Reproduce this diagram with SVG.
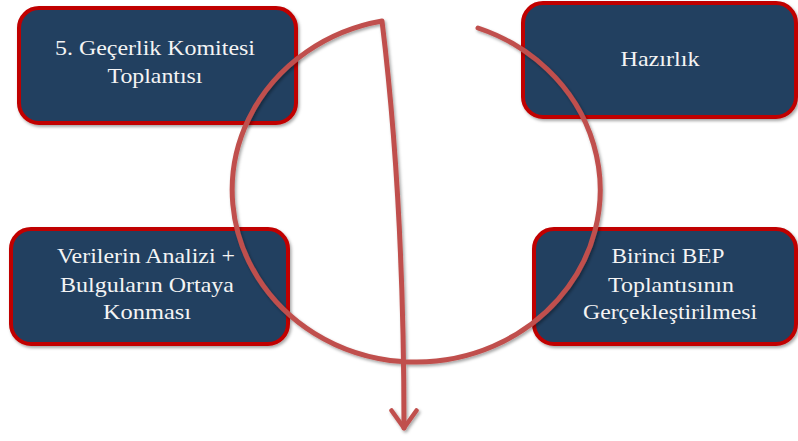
<svg xmlns="http://www.w3.org/2000/svg" width="798" height="441" viewBox="0 0 798 441">
  <defs>
    <filter id="shadow" x="-10%" y="-10%" width="130%" height="130%">
      <feDropShadow dx="1.5" dy="2" stdDeviation="1.5" flood-color="#000" flood-opacity="0.35"/>
    </filter>
    <marker id="chevron" viewBox="0 0 12 12" refX="9" refY="6" markerWidth="6" markerHeight="6" markerUnits="strokeWidth" orient="auto">
      <path d="M2,1 L9,6 L2,11" fill="none" stroke="#c0504d" stroke-width="1.8" stroke-linecap="round" stroke-linejoin="round"/>
    </marker>
  </defs>
  <style>
    .box { fill: #243f60; stroke: #c00000; stroke-width: 4; filter: url(#shadow); }
    text { font-family: "Liberation Serif", "Times New Roman", serif; font-size: 21.5px; fill: #f4f4f4; text-anchor: middle; }
    .flow { fill: none; stroke: #c0504d; stroke-width: 5; stroke-linecap: round; stroke-linejoin: round; filter: url(#shadow); }
  </style>

  <rect width="798" height="441" fill="#ffffff"/>

  <g id="node-gecerlik">
    <rect class="box" x="19" y="8" width="277" height="115" rx="20"/>
    <text x="155" y="55" textLength="200" lengthAdjust="spacingAndGlyphs">5. Geçerlik Komitesi</text>
    <text x="155" y="83" textLength="95" lengthAdjust="spacingAndGlyphs">Toplantısı</text>
  </g>

  <g id="node-hazirlik">
    <rect class="box" x="523" y="3" width="273" height="114" rx="20"/>
    <text x="660" y="66" textLength="79" lengthAdjust="spacingAndGlyphs">Hazırlık</text>
  </g>

  <g id="node-analiz">
    <rect class="box" x="11" y="229" width="277" height="115" rx="20"/>
    <text x="146" y="263" textLength="178" lengthAdjust="spacingAndGlyphs">Verilerin Analizi +</text>
    <text x="147" y="292" textLength="174" lengthAdjust="spacingAndGlyphs">Bulguların Ortaya</text>
    <text x="147" y="319" textLength="88" lengthAdjust="spacingAndGlyphs">Konması</text>
  </g>

  <g id="node-bep">
    <rect class="box" x="534" y="229" width="262" height="115" rx="20"/>
    <text x="668" y="263" textLength="113" lengthAdjust="spacingAndGlyphs">Birinci BEP</text>
    <text x="671" y="292" textLength="126" lengthAdjust="spacingAndGlyphs">Toplantısının</text>
    <text x="670" y="319" textLength="174" lengthAdjust="spacingAndGlyphs">Gerçekleştirilmesi</text>
  </g>

  <g id="connectors">
    <path class="flow" marker-end="url(#chevron)" d="M478,28 A184,172 0 1 1 382,21 Q404,200 404,428"/>
  </g>
</svg>
